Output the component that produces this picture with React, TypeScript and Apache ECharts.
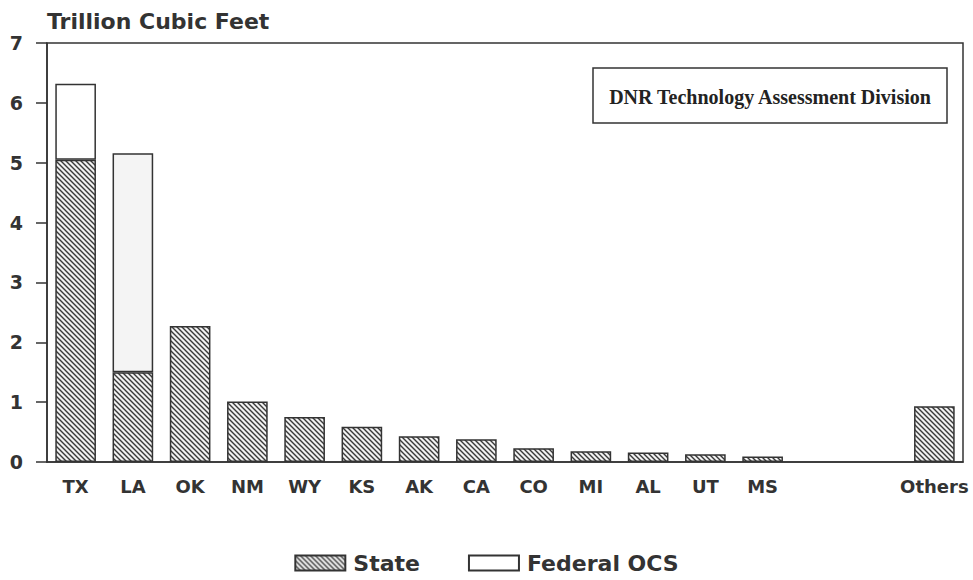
import React, { useEffect, useRef } from "react";
import * as echarts from "echarts";

const categories = ["TX", "LA", "OK", "NM", "WY", "KS", "AK", "CA", "CO", "MI", "AL", "UT", "MS", "", " ", "Others"];
const stateValues: (number | string)[] = [5.05, 1.5, 2.27, 1.01, 0.75, 0.59, 0.43, 0.38, 0.23, 0.18, 0.16, 0.13, 0.09, "-", "-", 0.93];
const federalValues: (number | string)[] = [1.27, 3.66, "-", "-", "-", "-", "-", "-", "-", "-", "-", "-", "-", "-", "-", "-"];
const yTicks = [0, 1, 2, 3, 4, 5, 6, 7];
const titleText = "Trillion Cubic Feet";
const boxText = "DNR Technology Assessment Division";

const SANS = "'DejaVu Sans', Verdana, sans-serif";

function makeHatch(): HTMLCanvasElement {
  const c = document.createElement("canvas");
  const s = 5;
  c.width = s;
  c.height = s;
  const ctx = c.getContext("2d")!;
  ctx.fillStyle = "#f2f2f2";
  ctx.fillRect(0, 0, s, s);
  ctx.strokeStyle = "#3a3a3a";
  ctx.lineWidth = 1.4;
  ctx.beginPath();
  ctx.moveTo(-1, -1);
  ctx.lineTo(s + 1, s + 1);
  ctx.moveTo(-1, s - 1);
  ctx.lineTo(1, s + 1);
  ctx.moveTo(s - 1, -1);
  ctx.lineTo(s + 1, 1);
  ctx.stroke();
  return c;
}

export default function App() {
  const ref = useRef<HTMLDivElement>(null);
  useEffect(() => {
    if (!ref.current) return;
    const chart = echarts.init(ref.current, undefined, { renderer: "svg" });
    const hatch = { image: makeHatch(), repeat: "repeat" } as any;
    const ink = "#333";
    chart.setOption({
      animation: false,
      backgroundColor: "#fff",
      grid: {
        left: 47,
        right: 10,
        top: 43,
        bottom: 118,
        show: true,
        borderColor: ink,
        borderWidth: 1.5,
        backgroundColor: "transparent",
      },
      graphic: [
        {
          type: "text",
          x: 47,
          y: 21,
          style: {
            text: titleText,
            fill: ink,
            verticalAlign: "middle",
            font: "bold 22px " + SANS,
          },
        },
        {
          type: "rect",
          shape: { x: 593, y: 68, width: 354, height: 55 },
          style: { fill: "#fff", stroke: ink, lineWidth: 1.5 },
          z: 10,
        },
        {
          type: "text",
          x: 770,
          y: 97,
          style: {
            text: boxText,
            fill: "#222",
            align: "center",
            verticalAlign: "middle",
            font: "bold 20px 'Liberation Serif', 'Times New Roman', serif",
          },
          z: 11,
        },
      ],
      legend: {
        top: 547,
        left: "center",
        itemWidth: 50,
        itemHeight: 15,
        itemGap: 48,
        textStyle: {
          color: ink,
          fontSize: 22,
          fontWeight: "bold",
          fontFamily: SANS,
          padding: [0, 0, 0, 3],
        },
        data: [
          { name: "State", icon: "rect" },
          { name: "Federal OCS", icon: "rect" },
        ],
      },
      xAxis: {
        type: "category",
        data: categories,
        axisLine: { lineStyle: { color: ink, width: 1.5 } },
        axisTick: { show: false },
        axisLabel: {
          color: ink,
          fontSize: 18,
          fontWeight: "bold",
          fontFamily: SANS,
          margin: 15,
          interval: 0,
        },
      },
      yAxis: {
        type: "value",
        min: yTicks[0],
        max: yTicks[yTicks.length - 1],
        interval: 1,
        splitLine: { show: false },
        axisLine: { show: true, lineStyle: { color: ink, width: 1.5 } },
        axisTick: { show: true, length: 11, lineStyle: { color: ink, width: 1.5 } },
        axisLabel: {
          color: ink,
          fontSize: 19,
          fontWeight: "bold",
          fontFamily: SANS,
          margin: 24,
        },
      },
      series: [
        {
          name: "State",
          type: "bar",
          stack: "total",
          barWidth: "71%",
          data: stateValues,
          itemStyle: { color: hatch, borderColor: ink, borderWidth: 1.5 },
        },
        {
          name: "Federal OCS",
          type: "bar",
          stack: "total",
          barWidth: "71%",
          data: federalValues.map((v, i) =>
            i === 1 && typeof v === "number" ? { value: v, itemStyle: { color: "#f4f4f4" } } : v
          ),
          itemStyle: { color: "#fff", borderColor: ink, borderWidth: 1.5 },
        },
      ],
    });
    return () => chart.dispose();
  }, []);
  return (
    <div
      ref={ref}
      style={{ position: "absolute", left: 0, top: 0, width: 973, height: 580 }}
    />
  );
}
